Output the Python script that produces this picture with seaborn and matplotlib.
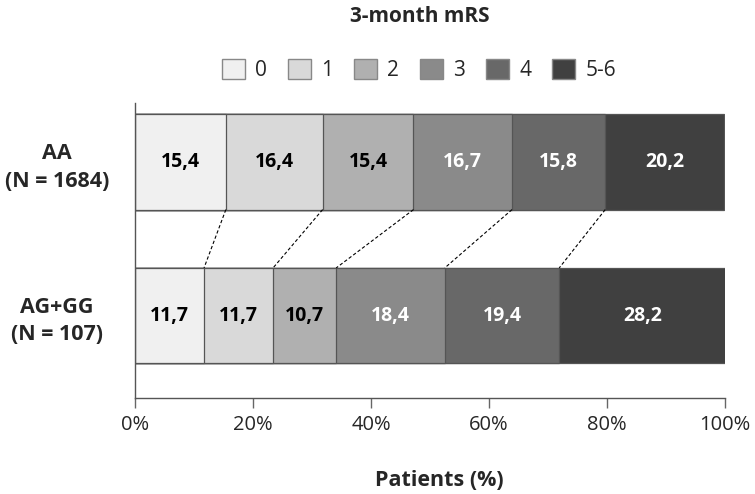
import numpy as np
import pandas as pd
import matplotlib
matplotlib.use('Agg')
import matplotlib.pyplot as plt
import seaborn as sns
from matplotlib.patches import Patch

## data
groups = ['AA\n(N = 1684)', 'AG+GG\n(N = 107)']
mrs_levels = ['0', '1', '2', '3', '4', '5-6']
aa_values = [15.4, 16.4, 15.4, 16.7, 15.8, 20.2]
ag_gg_values = [11.7, 11.7, 10.7, 18.4, 19.4, 28.2]
value_labels_aa = ['15,4', '16,4', '15,4', '16,7', '15,8', '20,2']
value_labels_ag = ['11,7', '11,7', '10,7', '18,4', '19,4', '28,2']
xtick_values = [0, 20, 40, 60, 80, 100]

colors = ['#f0f0f0', '#d9d9d9', '#b0b0b0', '#8a8a8a', '#686868', '#404040']
text_colors = ['black', 'black', 'black', 'white', 'white', 'white']

sns.set_style('white')
plt.rcParams['font.family'] = ['Open Sans', 'DejaVu Sans']

cum_aa = np.cumsum(aa_values)
cum_ag = np.cumsum(ag_gg_values)

fig = plt.figure(figsize=(7.55, 4.94), dpi=100)
ax = fig.add_axes([0.1788, 0.1943, 0.7815, 0.5972])

bar_w = 0.62
# stacked bars: draw cumulative totals from the largest down
for k in range(len(mrs_levels) - 1, -1, -1):
    df = pd.DataFrame({'group': groups, 'cum': [cum_aa[k], cum_ag[k]]})
    sns.barplot(data=df, x='cum', y='group', orient='h', color=colors[k],
                saturation=1, width=bar_w, edgecolor='#555555', linewidth=0.9, ax=ax)

# value labels
for row, (vals, labs, cum) in enumerate([(aa_values, value_labels_aa, cum_aa),
                                         (ag_gg_values, value_labels_ag, cum_ag)]):
    for k in range(len(vals)):
        xc = cum[k] - vals[k] / 2
        ax.text(xc, row, labs[k], ha='center', va='center', fontsize=14,
                fontweight='bold', color=text_colors[k])

# dashed connectors between segment boundaries
for k in range(len(mrs_levels) - 1):
    ax.plot([cum_aa[k], cum_ag[k]], [0 + bar_w / 2, 1 - bar_w / 2],
            ls=(0, (3, 2)), color='black', lw=0.8)

ax.set_xlim(0, 100)
ax.set_ylim(1.537, -0.384)
ax.set_xticks(xtick_values)
ax.set_xticklabels([f'{v}%' for v in xtick_values], fontsize=14.5)
ax.tick_params(axis='x', which='both', bottom=True, length=7, width=1, color='#666666', pad=5)
ax.tick_params(axis='y', length=0)
for lab in ax.get_yticklabels():
    lab.set_fontsize(15.5)
    lab.set_fontweight('bold')
    lab.set_ha('center')
    lab.set_multialignment('center')
    lab.set_linespacing(1.4)
ax.yaxis.set_tick_params(pad=56)
ax.set_ylabel('')
ax.set_xlabel('Patients (%)', fontsize=15.5, fontweight='bold')
ax.xaxis.set_label_coords(0.515, -0.245)

for s in ['top', 'right']:
    ax.spines[s].set_visible(False)
for s in ['left', 'bottom']:
    ax.spines[s].set_color('#555555')
    ax.spines[s].set_linewidth(1)

# legend and title
fig.text(0.556, 0.966, '3-month mRS', ha='center', va='center', fontsize=15, fontweight='bold')
handles = [Patch(facecolor=c, edgecolor='#888888', linewidth=1) for c in colors]
fig.legend(handles, mrs_levels, loc='center', bbox_to_anchor=(0.555, 0.858), ncol=6,
           frameon=False, fontsize=15, handlelength=1.1, handleheight=1.1,
           handletextpad=0.5, columnspacing=1.0)

fig.savefig('out.png', dpi=100)
